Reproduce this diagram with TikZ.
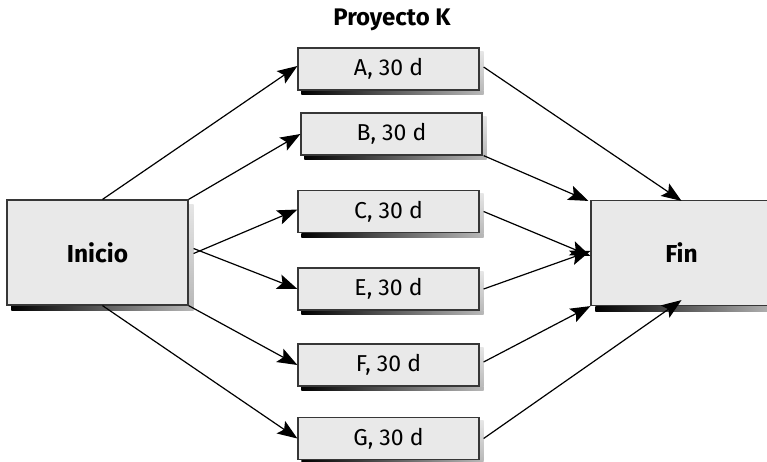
\documentclass[tikz,border=0pt]{standalone}
\usepackage{fontspec}
\setmainfont{Fira Sans}
\usetikzlibrary{arrows.meta}
\pgfdeclarelayer{background}
\pgfsetlayers{background,main}
\definecolor{boxfill}{RGB}{233,233,233}
\definecolor{boxline}{RGB}{55,55,55}
\tikzset{
  taskbox/.style={draw=boxline, line width=1.2pt, fill=boxfill, minimum width=181pt, minimum height=42pt, inner sep=0pt, font=\fontsize{23}{26}\selectfont},
  endbox/.style={draw=boxline, line width=1.2pt, fill=boxfill, minimum width=181pt, minimum height=105pt, inner sep=0pt, font=\fontsize{24.5}{28}\selectfont\bfseries},
  titlelabel/.style={font=\fontsize{24}{28}\selectfont\bfseries, inner sep=0pt},
  link/.style={line width=1.2pt, -{Stealth[length=20pt,width=15pt,inset=4pt]}},
}
\newcommand{\boxshadow}[2]{%
  \begin{pgfonlayer}{background}
    \shade[left color=black, right color=gray!55]
      ([xshift=#2]#1.south west) rectangle ([xshift=#2,yshift=-#2]#1.south east);
    \shade[top color=gray!20, bottom color=gray!55]
      ([yshift=-#2]#1.north east) rectangle ([xshift=#2]#1.south east);
  \end{pgfonlayer}}
\begin{document}
\begin{tikzpicture}[x=1pt,y=-1pt]
\useasboundingbox (0,0) rectangle (767,461);
\node[titlelabel] (title) at (392,20) {Proyecto K};
\node[endbox] (ini) at (97.5,252.5) {Inicio};
\node[endbox] (fin) at (681.5,253) {Fin};
\node[taskbox] (A) at (388.5,69) {A, 30 d};
\node[taskbox] (B) at (391.5,134) {B, 30 d};
\node[taskbox] (C) at (388.5,211.5) {C, 30 d};
\node[taskbox] (E) at (388.5,289) {E, 30 d};
\node[taskbox] (F) at (388.5,365) {F, 30 d};
\node[taskbox] (G) at (388.5,438.5) {G, 30 d};
\boxshadow{ini}{5pt}
\boxshadow{fin}{5pt}
\boxshadow{A}{4pt}
\boxshadow{B}{4pt}
\boxshadow{C}{4pt}
\boxshadow{E}{4pt}
\boxshadow{F}{4pt}
\boxshadow{G}{4pt}
% from Inicio
\draw[link] ([xshift=5pt]ini.north) -- ([yshift=3pt]A.west);
\draw[link] (ini.north east) -- (B.west);
\draw[link] ([xshift=5pt,yshift=-1pt]ini.east) -- ([yshift=2pt]C.west);
\draw[link] ([xshift=5pt,yshift=4pt]ini.east) -- (E.west);
\draw[link] (ini.south east) -- (F.west);
\draw[link] ([xshift=5pt]ini.south) -- (G.west);
% to Fin
\draw[link] ([xshift=4pt,yshift=2pt]A.east) -- ([yshift=-1pt]fin.north);
\draw[link] ([xshift=1pt]B.south east) -- ([xshift=-2pt,yshift=-1pt]fin.north west);
\draw[link] ([xshift=4pt]C.east) -- ([yshift=-3pt]fin.west);
\draw[link] ([xshift=4pt]E.east) -- ([yshift=2pt]fin.west);
\draw[link] ([xshift=4pt,yshift=3pt]F.east) -- (fin.south west);
\draw[link] ([xshift=4pt]G.east) -- ([yshift=6pt]fin.south);
\end{tikzpicture}
\end{document}
